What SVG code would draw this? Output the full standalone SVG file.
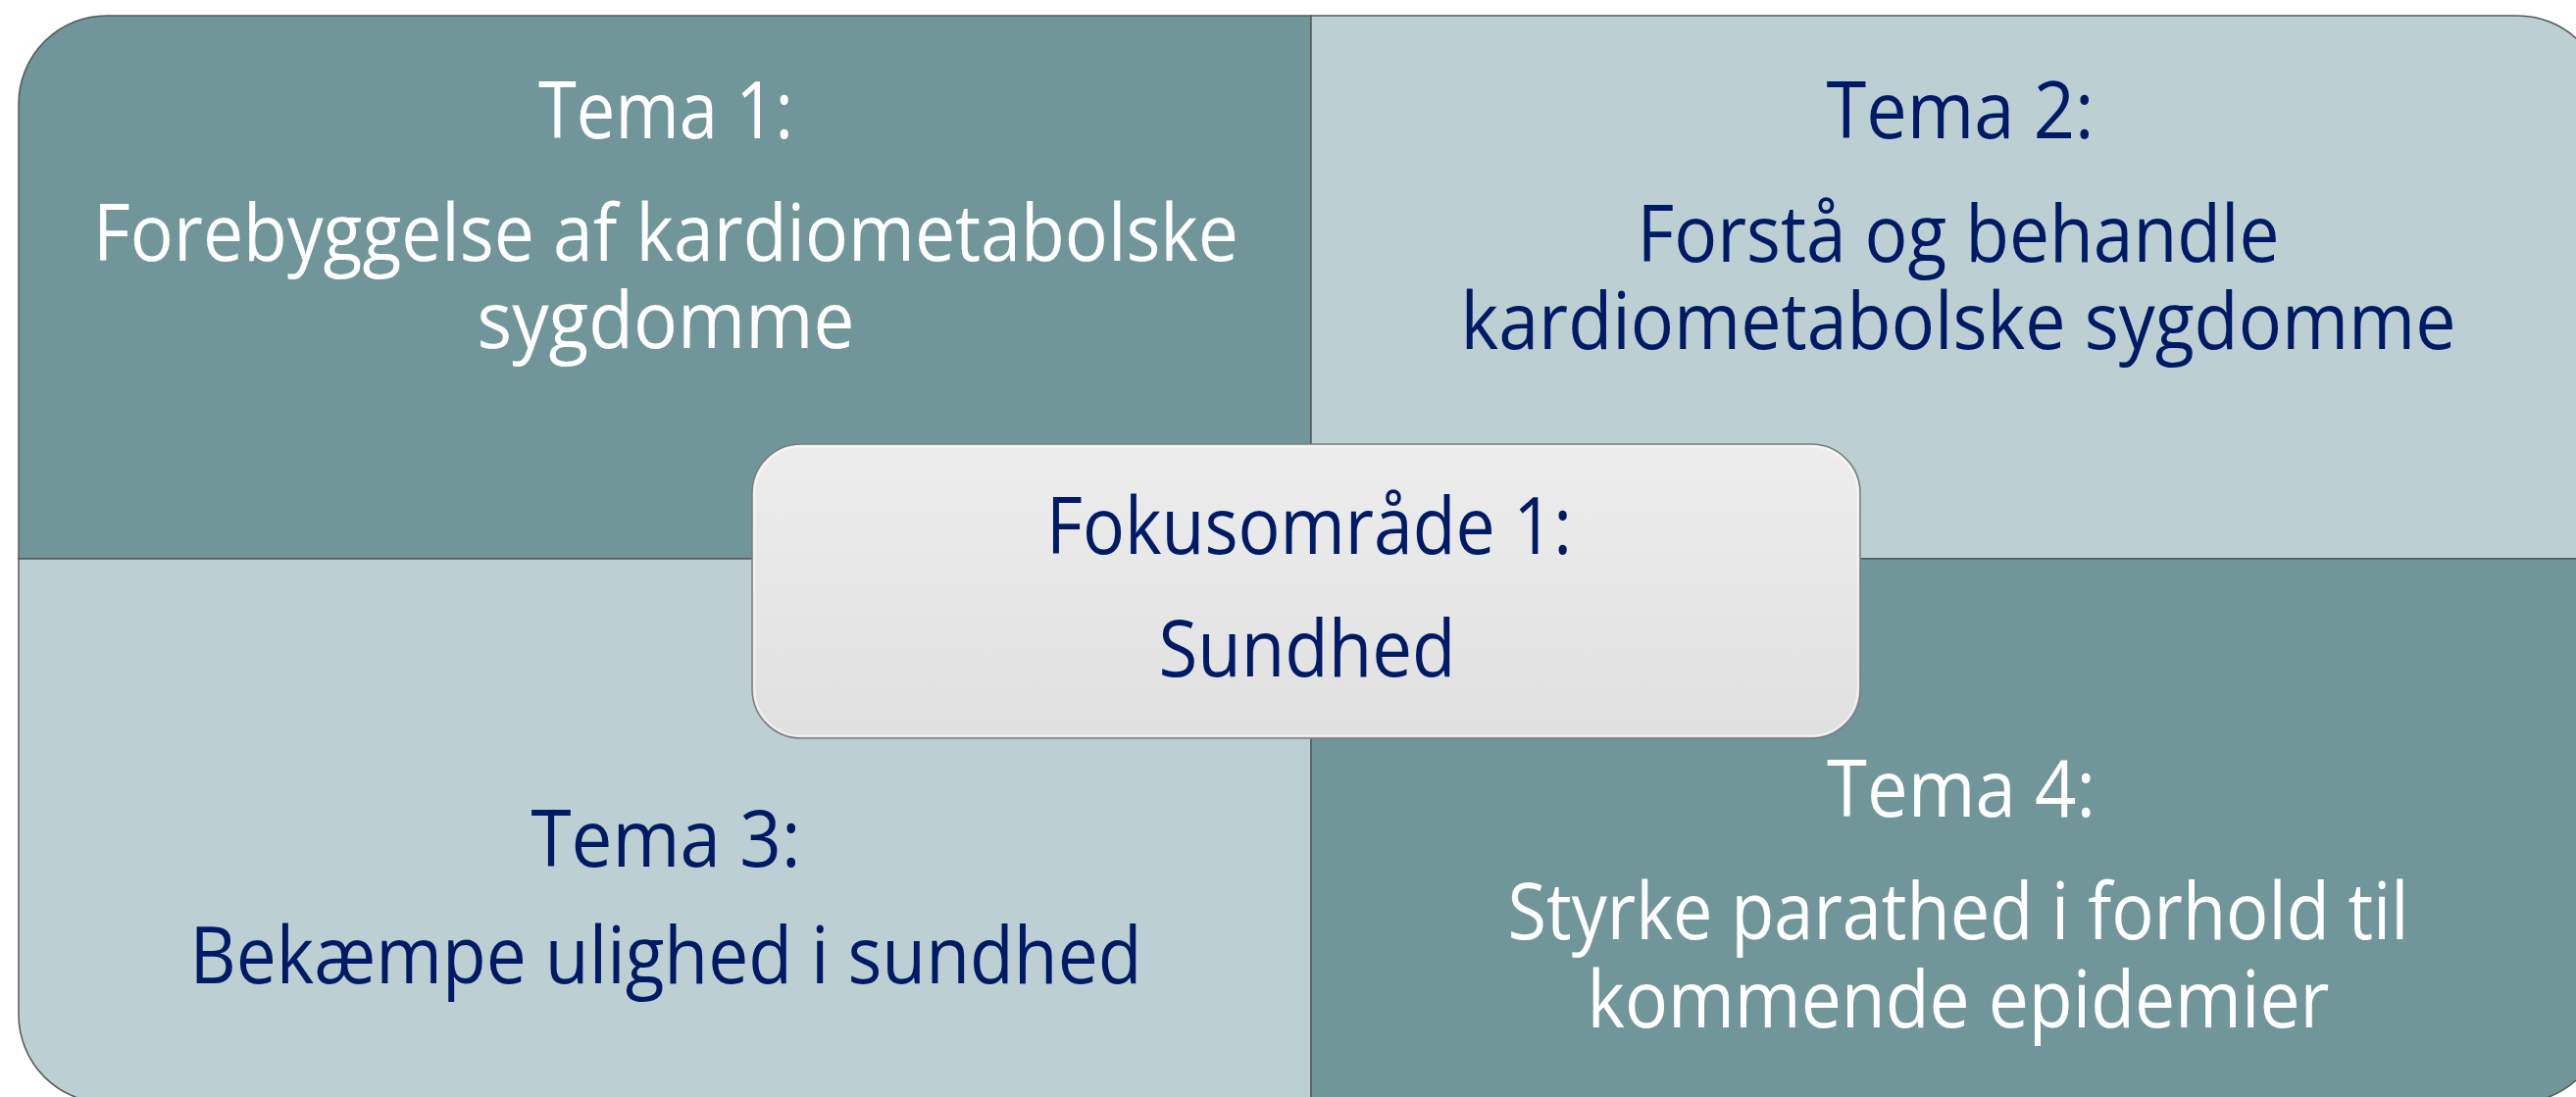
<svg xmlns="http://www.w3.org/2000/svg" width="2627" height="1119" viewBox="0 0 2627 1119">
  <style>
    .dark { fill: #70969a; stroke: #555b5c; stroke-width: 1.5; }
    .light { fill: #bccfd3; stroke: #555b5c; stroke-width: 1.5; }
    .t { font-family: "Open Sans", "Liberation Sans", sans-serif; font-size: 80px; text-anchor: middle; }
    .w { fill: #ffffff; }
    .n { fill: #001b66; }
  </style>
  <defs>
    <linearGradient id="boxGrad" x1="0" y1="0" x2="0" y2="1">
      <stop offset="0" stop-color="#ecedec"/>
      <stop offset="1" stop-color="#dfe0df"/>
    </linearGradient>
  </defs>
  <rect width="2627" height="1119" fill="#ffffff"/>

  <g id="tema1">
    <path class="dark" d="M19,570 L19,106 A90,90 0 0 1 109,16 L1337,16 L1337,570 Z"/>
    <text class="t w" x="679" y="141" textLength="260" lengthAdjust="spacingAndGlyphs">Tema 1:</text>
    <text class="t w" x="679" y="266" textLength="1168" lengthAdjust="spacingAndGlyphs">Forebyggelse af kardiometabolske</text>
    <text class="t w" x="679" y="355" textLength="385" lengthAdjust="spacingAndGlyphs">sygdomme</text>
  </g>

  <g id="tema2">
    <path class="light" d="M1337,16 L2567,16 A90,90 0 0 1 2657,106 L2657,570 L1337,570 Z"/>
    <text class="t n" x="1999" y="141" textLength="273" lengthAdjust="spacingAndGlyphs">Tema 2:</text>
    <text class="t n" x="1997" y="267" textLength="655" lengthAdjust="spacingAndGlyphs">Forstå og behandle</text>
    <text class="t n" x="1997" y="356" textLength="1015" lengthAdjust="spacingAndGlyphs">kardiometabolske sygdomme</text>
  </g>

  <g id="tema3">
    <path class="light" d="M19,570 L1337,570 L1337,1125 L109,1125 A90,90 0 0 1 19,1035 Z"/>
    <text class="t n" x="679" y="884" textLength="275" lengthAdjust="spacingAndGlyphs">Tema 3:</text>
    <text class="t n" x="679" y="1003" textLength="971" lengthAdjust="spacingAndGlyphs">Bekæmpe ulighed i sundhed</text>
  </g>

  <g id="tema4">
    <path class="dark" d="M1337,570 L2657,570 L2657,1035 A90,90 0 0 1 2567,1125 L1337,1125 Z"/>
    <text class="t w" x="2000" y="833" textLength="274" lengthAdjust="spacingAndGlyphs">Tema 4:</text>
    <text class="t w" x="1997" y="958" textLength="919" lengthAdjust="spacingAndGlyphs">Styrke parathed i forhold til</text>
    <text class="t w" x="1997" y="1048" textLength="757" lengthAdjust="spacingAndGlyphs">kommende epidemier</text>
  </g>

  <g id="fokusomraade">
    <rect x="767" y="453" width="1130" height="300" rx="50" ry="50" fill="url(#boxGrad)" stroke="#7a7d7d" stroke-width="1.5"/>
    <rect x="769.5" y="455.5" width="1125" height="295" rx="48" ry="48" fill="none" stroke="#ffffff" stroke-opacity="0.6" stroke-width="1.5"/>
    <text class="t n" x="1335" y="565" textLength="536" lengthAdjust="spacingAndGlyphs">Fokusområde 1:</text>
    <text class="t n" x="1333" y="690" textLength="303" lengthAdjust="spacingAndGlyphs">Sundhed</text>
  </g>
</svg>
